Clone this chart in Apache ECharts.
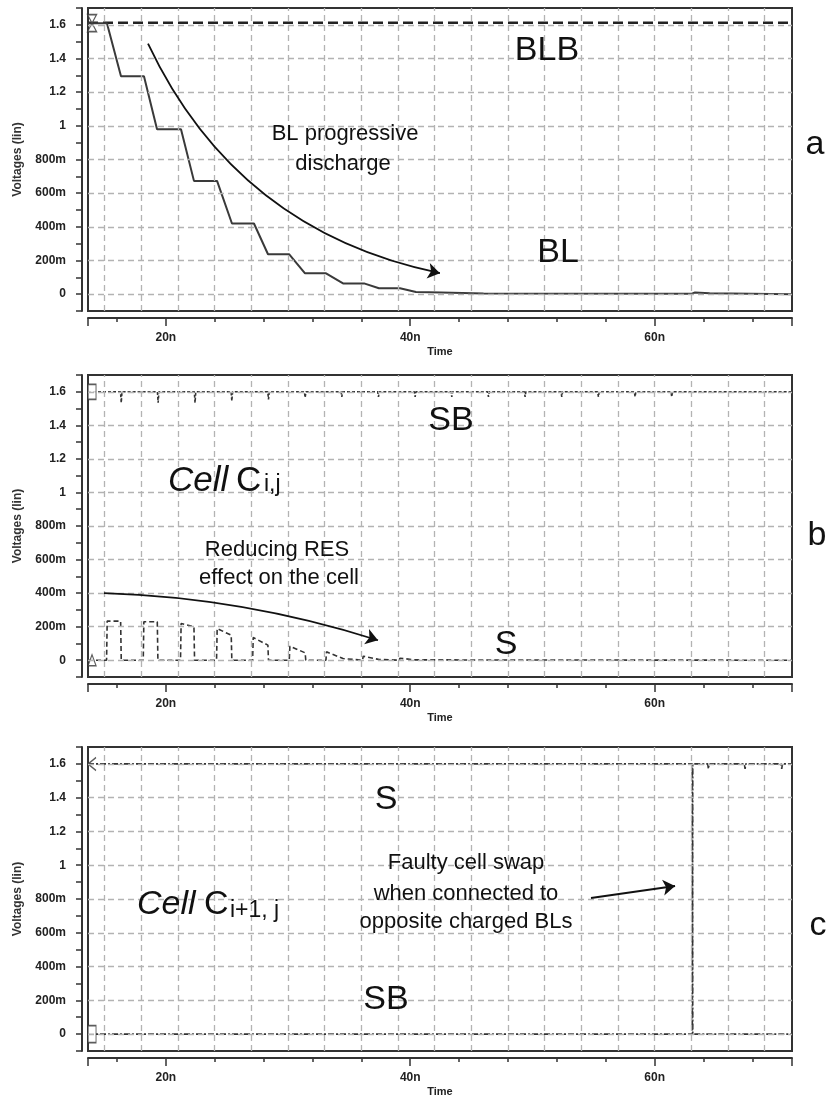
<!DOCTYPE html>
<html>
<head>
<meta charset="utf-8">
<script src="https://cdn.jsdelivr.net/npm/echarts@6.0.0/dist/echarts.min.js"></script>
<style>
html,body{margin:0;padding:0;background:#fff;}
#chart{width:830px;height:1105px;}
</style>
</head>
<body>
<div id="chart"></div>
<script>
// ---------- data (time in ns, voltage in V) ----------
const xMin = 13.63, xMax = 71.24;
const yTickValues = [-0.1,0,0.1,0.2,0.3,0.4,0.5,0.6,0.7,0.8,0.9,1.0,1.1,1.2,1.3,1.4,1.5,1.6,1.7];
const yLabelValues = [0,0.2,0.4,0.6,0.8,1.0,1.2,1.4,1.6];
const yGridValues = [0,0.2,0.4,0.6,0.8,1.0,1.2,1.4,1.6];
const xGridValues = [15,18,21,24,27,30,33,36,39,42,45,48,51,54,57,60,63,66,69];
const xMinorTicks = [16,24,28,32,36,44,48,52,56,64,68];
const xMajorTicks = [20,40,60];
const xLabelValues = [20,40,60];

// panel a
const blbA = [[13.63,1.613],[71.24,1.613]];
const blA = [[13.63,1.61],[15.18,1.61],[16.33,1.295],[18.21,1.295],[19.28,0.98],[21.24,0.98],
  [22.30,0.673],[24.19,0.673],[25.41,0.42],[27.21,0.42],[28.36,0.237],[30.1,0.237],
  [31.39,0.124],[33.11,0.124],[34.5,0.064],[36.22,0.064],[37.44,0.035],[39.16,0.035],
  [40.47,0.013],[42.52,0.01],[46,0.004],[63.0,0.002],[63.3,0.01],[64.5,0.005],[71.24,0.0]];
const markA = [[13.96,1.61]];
const arrowA = [[18.54,1.488],[42.43,0.125]];

// panel b
const sbBLevel = 1.6;
const sbBSpikeTimes = [16.35,19.37,22.39,25.4,28.4,31.4,34.4,37.4,40.4,43.4,46.4,49.4,52.4,55.4,58.4,61.4];
const sbBSpikeDepths = [0.065,0.065,0.065,0.055,0.045,0.035,0.03,0.03,0.03,0.03,0.03,0.03,0.03,0.03,0.03,0.03];
const sB = [[13.63,0],[15.15,0],[15.2,0.233],[16.3,0.233],[16.35,0],[18.15,0],[18.2,0.229],[19.3,0.229],
  [19.35,0],[21.2,0],[21.25,0.219],[22.3,0.2],[22.35,0],[24.15,0],[24.2,0.189],[25.35,0.149],
  [25.4,0],[27.1,0],[27.15,0.135],[28.35,0.09],[28.4,0],[30.1,0],[30.15,0.084],[31.4,0.044],
  [31.45,0],[33.1,0],[33.15,0.05],[34.5,0.01],[34.55,0],[36.1,0],[36.15,0.024],[37.4,0.005],
  [37.45,0],[39.1,0],[39.15,0.012],[40.4,0.002],[40.45,0],[71.24,0]];
const markBTop = [[13.96,1.6]];
const markBBottom = [[13.96,0.0]];
const arrowB = [[14.94,0.40],[37.36,0.119]];

// panel c
const sC = [[13.63,1.6],[63.08,1.6],[63.12,0.0],[71.24,0.0]];
const sbCBase = [[13.63,0.0],[63.08,0.0],[63.12,1.6]];
const sbCSpikeTimes = [64.4,67.4,70.4];
const sbCSpikeDepths = [0.03,0.03,0.03];
const markCTop = [[13.96,1.6]];
const markCBottom = [[13.96,0.0]];
const arrowC = [[54.79,0.806],[61.67,0.877]];

// ---------- build ----------
function spiky(start, level, times, depths, end) {
  const pts = start.slice();
  times.forEach((t, i) => {
    pts.push([t - 0.06, level]);
    pts.push([t, level - depths[i]]);
    pts.push([t + 0.06, level]);
  });
  pts.push([end, level]);
  return pts;
}
const sbB = spiky([[xMin, sbBLevel]], sbBLevel, sbBSpikeTimes, sbBSpikeDepths, xMax);
const sbC = spiky(sbCBase, 1.6, sbCSpikeTimes, sbCSpikeDepths, xMax);

const FONT = '"Liberation Sans", Arial, Helvetica, sans-serif';
const chart = echarts.init(document.getElementById('chart'), null, {renderer: 'canvas'});

const gridsPos = [
  {left: 88, top: 8, width: 704, height: 303},
  {left: 88, top: 375, width: 704, height: 302},
  {left: 88, top: 747, width: 704, height: 304}
];
const grid = gridsPos.map(g => Object.assign({
  show: true, borderColor: '#333', borderWidth: 2, backgroundColor: '#fff', containLabel: false
}, g));

const xAxis = [], yAxis = [];
function fmtY(v) {
  if (Math.abs(v) < 1e-9) return '0';
  if (v < 0.999) return Math.round(v * 1000) + 'm';
  return String(Math.round(v * 10) / 10);
}
for (let k = 0; k < 3; k++) {
  xAxis.push({
    gridIndex: k, type: 'value', min: xMin, max: xMax, position: 'bottom', offset: 7,
    axisLine: {show: true, onZero: false, lineStyle: {color: '#333', width: 2}},
    axisTick: {show: true, length: 4, customValues: xMinorTicks, lineStyle: {color: '#333', width: 1.5}},
    axisLabel: {show: false},
    splitLine: {show: false}
  });
  xAxis.push({
    gridIndex: k, type: 'value', min: xMin, max: xMax, position: 'bottom', offset: 7,
    axisLine: {show: false, onZero: false},
    axisTick: {show: true, length: 8, customValues: [xMin].concat(xMajorTicks, [xMax]), lineStyle: {color: '#333', width: 1.5}},
    axisLabel: {show: true, customValues: xLabelValues, formatter: v => Math.round(v) + 'n', margin: 14,
      fontFamily: FONT, fontWeight: 'bold', fontSize: 12, color: '#222'},
    name: 'Time', nameLocation: 'middle', nameGap: 28,
    nameTextStyle: {fontFamily: FONT, fontWeight: 'bold', fontSize: 11, color: '#222'},
    splitLine: {show: false}
  });
  yAxis.push({
    gridIndex: k, type: 'value', min: -0.1, max: 1.7, position: 'left', offset: 6,
    name: 'Voltages (lin)', nameLocation: 'middle', nameGap: 58, nameRotate: 90,
    nameTextStyle: {fontFamily: FONT, fontWeight: 'bold', fontSize: 12, color: '#333'},
    axisLine: {show: true, onZero: false, lineStyle: {color: '#333', width: 2}},
    axisTick: {show: true, length: 6, customValues: yTickValues, lineStyle: {color: '#333', width: 1.5}},
    axisLabel: {show: true, customValues: yLabelValues, formatter: fmtY, margin: 16,
      fontFamily: FONT, fontWeight: 'bold', fontSize: 12, color: '#222'},
    splitLine: {show: false}
  });
}

const series = [];
function gridSeries(k) {
  return {
    type: 'line', xAxisIndex: 2 * k, yAxisIndex: k, z: 1, silent: true,
    data: [[xMin, -5]], showSymbol: false, symbol: 'none', lineStyle: {opacity: 0},
    markLine: {
      silent: true, symbol: ['none', 'none'], animation: false,
      label: {show: false},
      lineStyle: {color: '#b3b3b3', type: [6, 4], width: 1.3},
      data: yGridValues.map(v => ({yAxis: v})).concat(xGridValues.map(v => ({xAxis: v})))
    }
  };
}
function lineSeries(k, data, color, width, dash) {
  return {
    type: 'line', xAxisIndex: 2 * k, yAxisIndex: k, z: 3, data: data,
    showSymbol: false, symbol: 'none', smooth: false, silent: true,
    lineStyle: {color: color, width: width, type: dash}
  };
}
function markerSeries(k, data, symbol, size) {
  return {
    type: 'scatter', xAxisIndex: 2 * k, yAxisIndex: k, z: 4, data: data, silent: true,
    symbol: symbol, symbolSize: size,
    itemStyle: {color: '#fff', borderColor: '#333', borderWidth: 1.3}
  };
}
function arrowSeries(k, coords, curveness) {
  return {
    type: 'lines', coordinateSystem: 'cartesian2d', xAxisIndex: 2 * k, yAxisIndex: k, z: 5, silent: true,
    symbol: ['none', 'arrow'], symbolSize: 12,
    lineStyle: {color: '#111', width: 1.8, curveness: curveness, opacity: 1},
    data: [{coords: coords}]
  };
}

for (let k = 0; k < 3; k++) series.push(gridSeries(k));
// panel a
series.push(lineSeries(0, blbA, '#222', 2.5, [10, 5]));
series.push(lineSeries(0, blA, '#3a3a3a', 2, 'solid'));
series.push(markerSeries(0, markA, 'path://M0,0L10,18L0,18L10,0Z', [9, 17]));
series.push(arrowSeries(0, arrowA, -0.25));
// panel b
series.push(lineSeries(1, sbB, '#333', 1.6, [3, 2]));
series.push(lineSeries(1, sB, '#333', 1.6, [5, 3]));
series.push(markerSeries(1, markBTop, 'rect', [8, 15]));
series.push(markerSeries(1, markBBottom, 'triangle', [8, 11]));
series.push(arrowSeries(1, arrowB, 0.07));
// panel c
series.push(lineSeries(2, sC, '#333', 1.6, [6, 2, 2, 2]));
series.push(lineSeries(2, sbC, '#333', 1.6, [6, 2, 2, 2]));
series.push(markerSeries(2, markCTop, 'path://M10,0L0,7L10,14L0,7Z', [8, 13]));
series.push(markerSeries(2, markCBottom, 'rect', [8, 17]));
series.push(arrowSeries(2, arrowC, 0));

// ---------- text annotations ----------
function txt(text, x, y, size, opts) {
  opts = opts || {};
  const font = (opts.italic ? 'italic ' : 'normal ') + size + 'px ' + FONT;
  return {
    type: 'text', x: x, y: y, z: 10, silent: true,
    style: {
      text: text, font: font, fill: '#111',
      align: opts.align || 'center', verticalAlign: 'middle',
      textAlign: opts.align || 'center', textVerticalAlign: 'middle'
    }
  };
}
function box(x, y, w, h) {
  return {type: 'rect', z: 2, silent: true, shape: {x: x, y: y, width: w, height: h}, style: {fill: '#fff'}};
}
const graphic = [
  box(262, 117, 168, 64),
  box(186, 528, 186, 64),
  box(340, 835, 250, 115),
  // panel a
  txt('BLB', 547, 51, 34),
  txt('BL progressive', 345, 134, 22),
  txt('discharge', 343, 164, 22),
  txt('BL', 558, 253, 34),
  txt('a', 815, 145, 34),
  // panel b
  txt('SB', 451, 421, 34),
  txt('Cell', 168, 481, 35, {italic: true, align: 'left'}),
  txt('C', 236, 481, 35, {align: 'left'}),
  txt('i,j', 264, 485, 23, {align: 'left'}),
  txt('Reducing RES', 277, 550, 22),
  txt('effect on the cell', 279, 578, 22),
  txt('S', 506, 645, 34),
  txt('b', 817, 536, 34),
  // panel c
  txt('S', 386, 800, 34),
  txt('Faulty cell swap', 466, 863, 22),
  txt('when connected to', 466, 894, 22),
  txt('opposite charged BLs', 466, 922, 22),
  txt('Cell', 137, 905, 34, {italic: true, align: 'left'}),
  txt('C', 204, 905, 34, {align: 'left'}),
  txt('i+1, j', 230, 911, 23, {align: 'left'}),
  txt('SB', 386, 1000, 34),
  txt('c', 818, 926, 34)
];

chart.setOption({
  animation: false,
  backgroundColor: '#fff',
  grid: grid,
  xAxis: xAxis,
  yAxis: yAxis,
  series: series,
  graphic: graphic
});
</script>
</body>
</html>
